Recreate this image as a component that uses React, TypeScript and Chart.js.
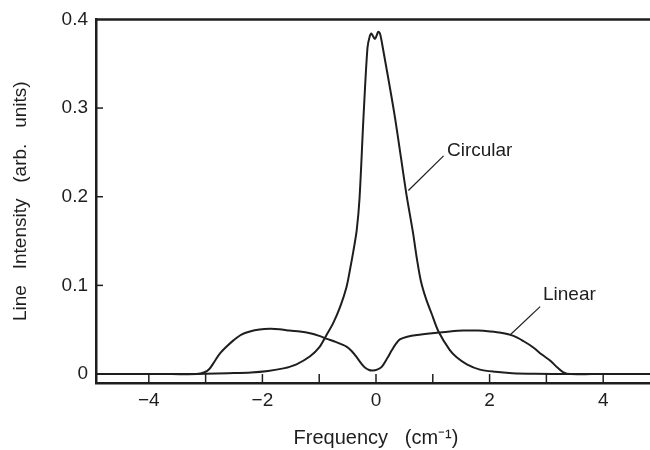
import React, { useEffect, useRef } from "react";
import { Chart, registerables } from "chart.js";

Chart.register(...registerables);

// Circular polarization curve: [frequency, intensity]
const circularX = [-4.93, -4.0, -3.4, -3.0, -2.6, -2.2, -1.9, -1.63, -1.4, -1.16, -1.0, -0.88, -0.75, -0.63, -0.52, -0.46, -0.4, -0.34, -0.29, -0.22, -0.15, -0.11, -0.08, -0.02, 0.04, 0.07, 0.12, 0.33, 0.53, 0.65, 0.72, 0.79, 0.88, 0.98, 1.1, 1.3, 1.42, 1.6, 1.83, 2.1, 2.4, 2.8, 3.4, 4.0, 4.93];
const circularY = [0, 0, 0, 0.0004, 0.001, 0.0018, 0.0035, 0.0064, 0.011, 0.02, 0.03, 0.043, 0.058, 0.076, 0.098, 0.117, 0.138, 0.162, 0.198, 0.29, 0.368, 0.381, 0.384, 0.378, 0.386, 0.384, 0.368, 0.291, 0.205, 0.16, 0.13, 0.105, 0.085, 0.068, 0.048, 0.027, 0.019, 0.011, 0.005, 0.0025, 0.001, 0.0003, 0, 0, 0];

// Linear polarization curve
const linearX = [-4.93, -4.2, -3.6, -3.15, -3.02, -2.93, -2.84, -2.75, -2.63, -2.51, -2.37, -2.22, -2.05, -1.87, -1.7, -1.52, -1.34, -1.16, -1.0, -0.88, -0.7, -0.52, -0.43, -0.34, -0.26, -0.19, -0.12, -0.06, 0.02, 0.1, 0.2, 0.28, 0.35, 0.42, 0.55, 0.72, 1.07, 1.3, 1.54, 1.8, 2.01, 2.2, 2.42, 2.6, 2.77, 2.92, 3.07, 3.2, 3.3, 3.42, 3.8, 4.3, 4.93];
const linearY = [0, 0, 0, 0, 0.002, 0.006, 0.0145, 0.023, 0.031, 0.038, 0.0445, 0.048, 0.0502, 0.051, 0.0505, 0.049, 0.048, 0.046, 0.043, 0.04, 0.036, 0.031, 0.026, 0.019, 0.012, 0.007, 0.0045, 0.004, 0.005, 0.008, 0.018, 0.027, 0.034, 0.039, 0.042, 0.044, 0.0465, 0.048, 0.049, 0.049, 0.048, 0.0465, 0.043, 0.037, 0.03, 0.022, 0.015, 0.007, 0.002, 0, 0, 0, 0];

const xTicks = [-4, -3, -2, -1, 0, 1, 2, 3, 4];
const xLabelTicks = [-4, -2, 0, 2, 4];
const yTicks = [0, 0.1, 0.2, 0.3, 0.4];

const X_MIN = -4.93;
const X_MAX = 4.93;
const Y_MIN = -0.0101;
const Y_MAX = 0.4;

const annotations = [
  { text: "Circular", tx: 1.25, ty: 0.252, x1: 0.57, y1: 0.207, x2: 1.19, y2: 0.246 },
  { text: "Linear", tx: 2.94, ty: 0.089, x1: 2.36, y1: 0.044, x2: 2.89, y2: 0.076 },
];

const INK = "#1e1e1e";
const FONT = "'Liberation Sans', Arial, sans-serif";

const decorPlugin = {
  id: "decor",
  afterDatasetsDraw(chart: any) {
    const { ctx, chartArea, scales } = chart;
    const xs = scales.x;
    const ys = scales.y;
    ctx.save();
    ctx.strokeStyle = INK;
    // top border
    ctx.lineWidth = 2.5;
    ctx.beginPath();
    ctx.moveTo(chartArea.left, chartArea.top);
    ctx.lineTo(chartArea.right, chartArea.top);
    ctx.stroke();
    // inward x ticks
    ctx.lineWidth = 1.5;
    const zeroY = ys.getPixelForValue(0);
    xTicks.forEach((v) => {
      const px = xs.getPixelForValue(v);
      ctx.beginPath();
      ctx.moveTo(px, chartArea.bottom);
      ctx.lineTo(px, zeroY);
      ctx.stroke();
    });
    // inward y ticks
    [0.1, 0.2, 0.3].forEach((v) => {
      const py = ys.getPixelForValue(v);
      ctx.beginPath();
      ctx.moveTo(chartArea.left, py);
      ctx.lineTo(chartArea.left + 7, py);
      ctx.stroke();
    });
    // annotations
    ctx.lineWidth = 1.2;
    ctx.fillStyle = INK;
    ctx.font = `19px ${FONT}`;
    ctx.textAlign = "left";
    ctx.textBaseline = "middle";
    annotations.forEach((a) => {
      ctx.beginPath();
      ctx.moveTo(xs.getPixelForValue(a.x1), ys.getPixelForValue(a.y1));
      ctx.lineTo(xs.getPixelForValue(a.x2), ys.getPixelForValue(a.y2));
      ctx.stroke();
      ctx.fillText(a.text, xs.getPixelForValue(a.tx), ys.getPixelForValue(a.ty));
    });
    ctx.restore();
  },
};

export default function App() {
  const ref = useRef<HTMLCanvasElement | null>(null);
  useEffect(() => {
    if (!ref.current) return;
    const chart = new Chart(ref.current, {
      type: "scatter",
      data: {
        datasets: [
          {
            label: "Circular",
            data: circularX.map((x, i) => ({ x, y: circularY[i] })),
            showLine: true,
            borderColor: INK,
            borderWidth: 2,
            pointRadius: 0,
            tension: 0.3,
          },
          {
            label: "Linear",
            data: linearX.map((x, i) => ({ x, y: linearY[i] })),
            showLine: true,
            borderColor: INK,
            borderWidth: 2,
            pointRadius: 0,
            tension: 0.3,
          },
        ],
      },
      options: {
        animation: false,
        responsive: false,
        layout: { padding: { top: 18, right: 14, left: 0, bottom: 0 } },
        plugins: { legend: { display: false }, tooltip: { enabled: false } },
        scales: {
          x: {
            type: "linear",
            min: X_MIN,
            max: X_MAX,
            afterBuildTicks: (s: any) => {
              s.ticks = xTicks.map((v) => ({ value: v }));
            },
            afterFit: (s: any) => {
              s.height = 67;
            },
            grid: { display: true, drawOnChartArea: false, drawTicks: false },
            border: { display: true, color: INK, width: 2.5 },
            ticks: {
              color: INK,
              font: { family: FONT, size: 19 },
              padding: 6,
              maxRotation: 0,
              autoSkip: false,
              callback: (v: any) => (xLabelTicks.includes(v) ? (v < 0 ? "\u2212" + Math.abs(v) : String(v)) : ""),
            },
            title: {
              display: true,
              text: "Frequency   (cm\u207B\u00B9)",
              color: INK,
              font: { family: FONT, size: 20 },
              padding: { top: 0, bottom: 0 },
            },
          },
          y: {
            type: "linear",
            min: Y_MIN,
            max: Y_MAX,
            afterBuildTicks: (s: any) => {
              s.ticks = yTicks.map((v) => ({ value: v }));
            },
            afterFit: (s: any) => {
              s.width = 96;
            },
            grid: { display: true, drawOnChartArea: false, drawTicks: false },
            border: { display: true, color: INK, width: 2.5 },
            ticks: {
              color: INK,
              font: { family: FONT, size: 19 },
              padding: 8,
              callback: (v: any) => (v === 0 ? "0" : Number(v).toFixed(1)),
            },
            title: {
              display: true,
              text: "Line   Intensity   (arb.   units)",
              color: INK,
              font: { family: FONT, size: 19 },
              padding: { top: 9, bottom: 0 },
            },
          },
        },
      },
      plugins: [decorPlugin],
    } as any);
    return () => chart.destroy();
  }, []);
  return (
    <div style={{ position: "fixed", left: 0, top: 0, width: 670, height: 450, background: "#fff" }}>
      <canvas ref={ref} width={670} height={450} />
    </div>
  );
}
